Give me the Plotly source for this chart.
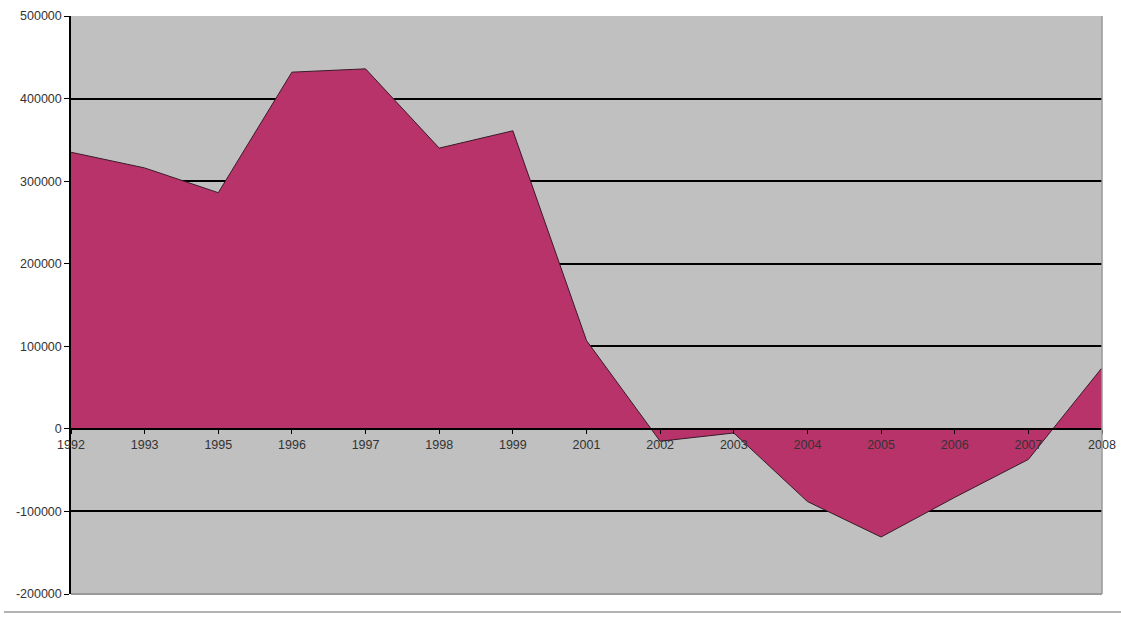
import plotly.graph_objects as go

years = ["1992", "1993", "1995", "1996", "1997", "1998", "1999", "2001",
         "2002", "2003", "2004", "2005", "2006", "2007", "2008"]
values = [335000, 316000, 286000, 432000, 436000, 340000, 361000, 107000,
          -15000, -5000, -88000, -131000, -83000, -37000, 74000]
y_ticks = [-200000, -100000, 0, 100000, 200000, 300000, 400000, 500000]
y_min, y_max = -200000, 500000

fig = go.Figure()
fig.add_trace(go.Scatter(
    x=years, y=values, mode="lines", fill="tozeroy",
    fillcolor="#B8336A", line=dict(color="#3a1a28", width=1),
    hoverinfo="x+y", showlegend=False,
))

tick_font = dict(family="Liberation Sans, Arial, sans-serif", size=12.5, color="#333333")

fig.update_layout(
    width=1121, height=617,
    margin=dict(l=71, r=19, t=16, b=23),
    paper_bgcolor="white", plot_bgcolor="#C0C0C0",
    xaxis=dict(
        type="category", range=[0, len(years) - 1],
        anchor="free", position=(0 - y_min) / (y_max - y_min),
        showline=True, linecolor="black", linewidth=1.5,
        ticks="outside", ticklen=4, tickcolor="black",
        showgrid=False, tickfont=tick_font, zeroline=False,
        automargin=False,
    ),
    yaxis=dict(
        range=[y_min, y_max], tickvals=y_ticks,
        ticktext=[str(v) for v in y_ticks],
        showline=True, linecolor="black", linewidth=1.5,
        ticks="outside", ticklen=5, tickcolor="black",
        showgrid=True, gridcolor="black", gridwidth=1.5,
        zeroline=False, tickfont=tick_font, automargin=False,
    ),
    shapes=[
        dict(type="line", xref="paper", yref="paper", x0=0, x1=1, y0=0, y1=0,
             line=dict(color="#9a9a9a", width=2), layer="above"),
        dict(type="line", xref="paper", yref="paper", x0=1, x1=1, y0=0, y1=1,
             line=dict(color="#9a9a9a", width=1.5), layer="above"),
        dict(type="line", xref="paper", yref="paper", x0=-0.065, x1=1.02,
             y0=-0.031, y1=-0.031, line=dict(color="#9a9a9a", width=1.5)),
    ],
)

fig.write_html("out.html")
